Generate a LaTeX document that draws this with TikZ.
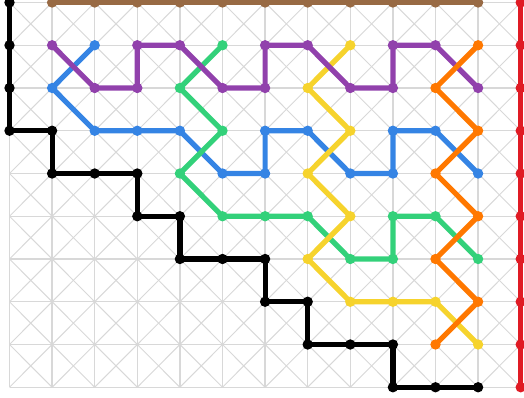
\documentclass[tikz,border=0pt]{standalone}
\definecolor{mbrown}{HTML}{986A44}
\definecolor{mpurple}{HTML}{9141AC}
\definecolor{mblue}{HTML}{3584E4}
\definecolor{mgreen}{HTML}{33D17A}
\definecolor{myellow}{HTML}{F6D32D}
\definecolor{morange}{HTML}{FF7800}
\definecolor{mred}{HTML}{E01B24}
\definecolor{mgrid}{HTML}{D8D8D8}
\begin{document}
\begin{tikzpicture}[x=1pt,y=-1pt,
  gridline/.style={draw=mgrid,line width=1.4pt},
  diagline/.style={draw=mgrid,line width=1pt},
  route/.style={draw=#1,line width=5.2pt,line join=round,line cap=round},
  dotr/.style={fill=#1}]
\useasboundingbox (0,0) rectangle (524,398);
\clip (0,0) rectangle (524,398);
\foreach \i in {0,...,12}{\foreach \j in {0,...,9}{
  \coordinate (p\i-\j) at ({9.5+42.6*\i},{2.5+42.75*\j});}}
% grid
\foreach \i in {0,...,12}{\draw[gridline] (p\i-0) -- (p\i-9);}
\foreach \j in {0,...,9}{\draw[gridline] (p0-\j) -- (p12-\j);}
\foreach \i in {0,...,11}{\foreach \j in {0,...,8}{
  \pgfmathtruncatemacro\ii{\i+1}\pgfmathtruncatemacro\jj{\j+1}
  \draw[diagline] (p\i-\j) -- (p\ii-\jj);
  \draw[diagline] (p\ii-\j) -- (p\i-\jj);}}
% black
\draw[route=black] (p0-0) -- (p0-1) -- (p0-2) -- (p0-3) -- (p1-3) -- (p1-4) -- (p2-4) -- (p3-4) -- (p3-5) -- (p4-5) -- (p4-6) -- (p5-6) -- (p6-6) -- (p6-7) -- (p7-7) -- (p7-8) -- (p8-8) -- (p9-8) -- (p9-9) -- (p10-9) -- (p11-9);
\foreach \p in {0-0,0-1,0-2,0-3,1-3,1-4,2-4,3-4,3-5,4-5,4-6,5-6,6-6,6-7,7-7,7-8,8-8,9-8,9-9,10-9,11-9}{\fill[dotr=black] (p\p) circle (5.2);}
% brown
\draw[route=mbrown] (p1-0) -- (p11-0);
\foreach \i in {1,...,11}{\fill[dotr=mbrown] (p\i-0) circle (5.2);}
% red
\draw[route=mred] (p12-0) -- (p12-9);
\foreach \j in {0,...,9}{\fill[dotr=mred] (p12-\j) circle (5.2);}
% blue
\draw[route=mblue] (p2-1) -- (p1-2) -- (p2-3) -- (p3-3) -- (p4-3) -- (p5-4) -- (p6-4) -- (p6-3) -- (p7-3) -- (p8-4) -- (p9-4) -- (p9-3) -- (p10-3) -- (p11-4);
\foreach \p in {2-1,1-2,2-3,3-3,4-3,5-4,6-4,6-3,7-3,8-4,9-4,9-3,10-3,11-4}{\fill[dotr=mblue] (p\p) circle (5.2);}
% green
\draw[route=mgreen] (p5-1) -- (p4-2) -- (p5-3) -- (p4-4) -- (p5-5) -- (p6-5) -- (p7-5) -- (p8-6) -- (p9-6) -- (p9-5) -- (p10-5) -- (p11-6);
\foreach \p in {5-1,4-2,5-3,4-4,5-5,6-5,7-5,8-6,9-6,9-5,10-5,11-6}{\fill[dotr=mgreen] (p\p) circle (5.2);}
% yellow
\draw[route=myellow] (p8-1) -- (p7-2) -- (p8-3) -- (p7-4) -- (p8-5) -- (p7-6) -- (p8-7) -- (p9-7) -- (p10-7) -- (p11-8);
\foreach \p in {8-1,7-2,8-3,7-4,8-5,7-6,8-7,9-7,10-7,11-8}{\fill[dotr=myellow] (p\p) circle (5.2);}
% purple
\draw[route=mpurple] (p1-1) -- (p2-2) -- (p3-2) -- (p3-1) -- (p4-1) -- (p5-2) -- (p6-2) -- (p6-1) -- (p7-1) -- (p8-2) -- (p9-2) -- (p9-1) -- (p10-1) -- (p11-2);
\foreach \p in {1-1,2-2,3-2,3-1,4-1,5-2,6-2,6-1,7-1,8-2,9-2,9-1,10-1,11-2}{\fill[dotr=mpurple] (p\p) circle (5.2);}
% orange
\draw[route=morange] (p11-1) -- (p10-2) -- (p11-3) -- (p10-4) -- (p11-5) -- (p10-6) -- (p11-7) -- (p10-8);
\foreach \p in {11-1,10-2,11-3,10-4,11-5,10-6,11-7,10-8}{\fill[dotr=morange] (p\p) circle (5.2);}
\end{tikzpicture}
\end{document}
